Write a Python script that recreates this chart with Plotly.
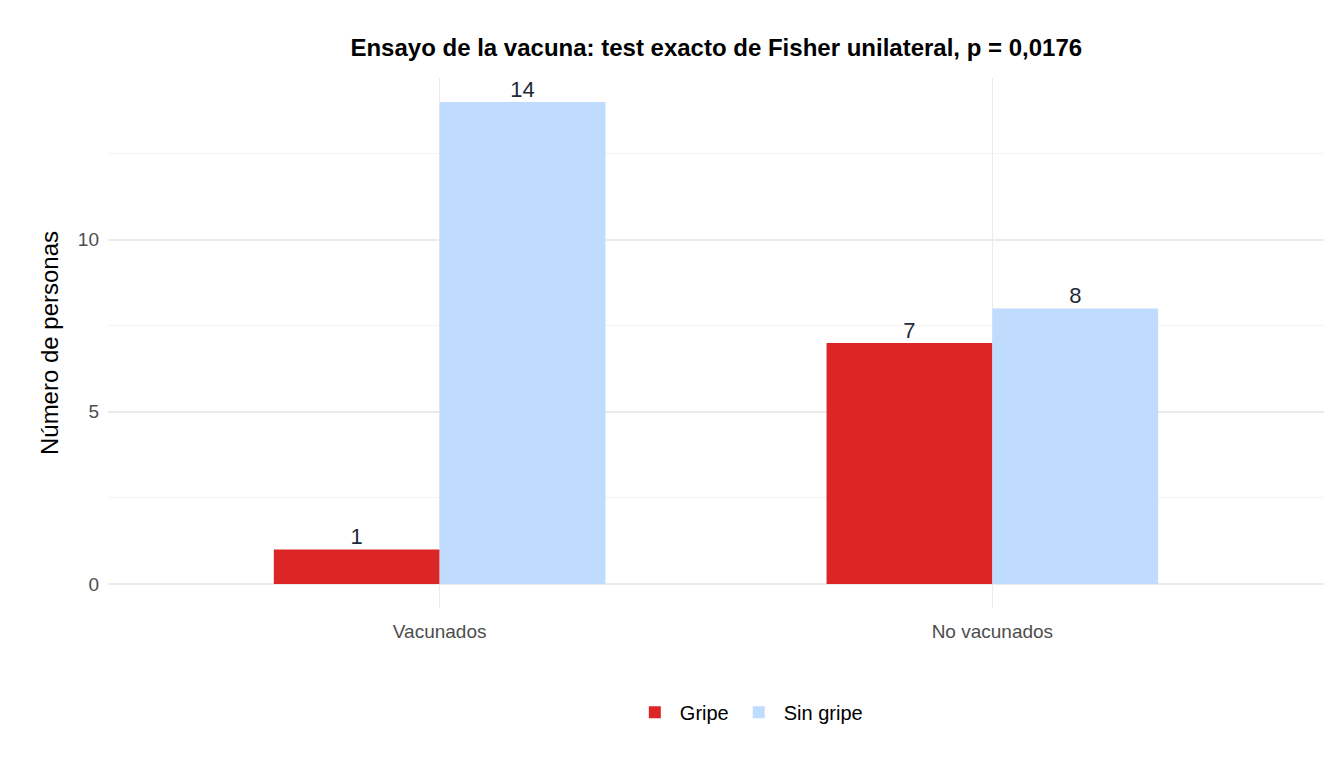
import plotly.graph_objects as go

categories = ["Vacunados", "No vacunados"]
gripe = [1, 7]
sin_gripe = [14, 8]
series_names = ["Gripe", "Sin gripe"]
colors = ["#DC2626", "#BFDBFE"]

fig = go.Figure()
for name, vals, col, off in [(series_names[0], gripe, colors[0], -0.15), (series_names[1], sin_gripe, colors[1], 0.15)]:
    fig.add_trace(go.Bar(x=[i + 1 for i in range(len(categories))], y=vals, name=name,
                         marker=dict(color=col, line=dict(width=0)), width=0.3, offset=off - 0.15))
    fig.add_trace(go.Scatter(x=[i + 1 + off for i in range(len(categories))], y=vals, mode="text",
                             text=[str(v) for v in vals], textposition="top center",
                             textfont=dict(size=22, color="#1f2a3a", family="Liberation Sans"),
                             showlegend=False, cliponaxis=True, hoverinfo="skip"))

fig.update_layout(
    width=1344, height=768, plot_bgcolor="white", paper_bgcolor="white",
    font=dict(family="Liberation Sans", color="#333"),
    title=dict(text="<b>Ensayo de la vacuna: test exacto de Fisher unilateral, p = 0,0176</b>",
               x=0.527, xanchor="center", y=0.948, yanchor="middle", font=dict(size=24, color="black")),
    margin=dict(l=100, r=28, t=70, b=168, autoexpand=False),
    barmode="overlay",
    legend=dict(orientation="h", x=0.527, xanchor="center", y=-0.16, yanchor="top",
                font=dict(size=20, color="black"), itemwidth=40, traceorder="normal"),
    xaxis=dict(range=[0.4, 2.6], tickvals=[1, 2], ticktext=categories, showgrid=True, automargin=False,
               gridcolor="#EBEBEB", zeroline=False, tickfont=dict(size=19, color="#4d4d4d"), ticks="",
               ticklabelstandoff=10),
    yaxis=dict(range=[-0.7, 14.7], tickvals=[0, 5, 10], showgrid=True, gridcolor="#EBEBEB", automargin=False,
               gridwidth=1.5, zeroline=False, tickfont=dict(size=19, color="#4d4d4d"),
               title=dict(text="Número de personas", font=dict(size=24, color="black"), standoff=12),
               minor=dict(tickvals=[2.5, 7.5, 12.5], showgrid=True, gridcolor="#F3F3F3", gridwidth=1),
               ticklabelstandoff=8),
)
fig.write_html("out.html")
